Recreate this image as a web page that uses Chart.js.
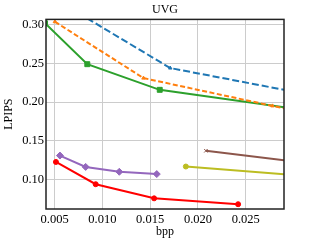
<!DOCTYPE html>
<html>
<head>
<meta charset="utf-8">
<script src="https://cdn.jsdelivr.net/npm/chart.js@4.4.1/dist/chart.umd.min.js"></script>
<style>
  html, body { margin: 0; padding: 0; background: #fff; }
  #wrap { width: 309px; height: 247px; }
</style>
</head>
<body>
<div id="wrap"><canvas id="myChart"></canvas></div>
<script>
// values (points past the right edge get clipped)
var blueX = [0.0075, 0.0171, 0.032];
var blueY = [0.315, 0.244, 0.2087];
var orangeX = [0.00503, 0.0143, 0.0278, 0.032];
var orangeY = [0.304, 0.231, 0.195, 0.184];
var greenX = [0.0040, 0.00842, 0.0160, 0.032];
var greenY = [0.302, 0.249, 0.2158, 0.188];
var purpleX = [0.00556, 0.00825, 0.01177, 0.01569];
var purpleY = [0.1307, 0.116, 0.1097, 0.1067];
var redX = [0.00514, 0.0093, 0.01541, 0.0242];
var redY = [0.1224, 0.0936, 0.0753, 0.0677];
var brownX = [0.02083, 0.032];
var brownY = [0.1369, 0.1201];
var oliveX = [0.01873, 0.032];
var oliveY = [0.1165, 0.1035];

var xTicks = [0.005, 0.010, 0.015, 0.020, 0.025];
var yTicks = [0.10, 0.15, 0.20, 0.25, 0.30];

function pts(xs, ys) {
    return xs.map((x, i) => ({x: x, y: ys[i]}));
}

function series(xs, ys, color, style, radius, dash) {
    return {
        data: pts(xs, ys),
        borderColor: color,
        backgroundColor: color,
        borderWidth: 2,
        borderDash: dash || [],
        pointStyle: style,
        pointRadius: radius,
        pointBorderWidth: 1,
        tension: 0,
        clip: 0
    };
}

// box round the plot area
var frame = {
    id: 'frame',
    afterDatasetsDraw(chart) {
        var a = chart.chartArea, c = chart.ctx;
        c.save();
        c.strokeStyle = '#222';
        c.lineWidth = 1.5;
        c.strokeRect(a.left, a.top, a.right - a.left, a.bottom - a.top);
        c.restore();
    }
};

var serif = 'Liberation Serif';
var ctx = document.getElementById('myChart').getContext('2d');

new Chart(ctx, {
    type: 'line',
    data: {
        datasets: [
            series(blueX, blueY, '#1f77b4', 'triangle', 2, [7, 3]),
            series(orangeX, orangeY, '#ff7f0e', 'triangle', 2, [5, 2.5]),
            series(greenX, greenY, '#2ca02c', 'rect', 3.5),
            series(purpleX, purpleY, '#9467bd', 'rectRot', 3.5),
            series(redX, redY, '#ff0000', 'circle', 2.5),
            series(brownX, brownY, '#8c564b', 'crossRot', 2.5),
            series(oliveX, oliveY, '#bcbd22', 'circle', 2.5)
        ]
    },
    options: {
        responsive: true,
        maintainAspectRatio: false,
        animation: false,
        layout: { padding: { left: 0, right: 25, top: 0, bottom: 0 } },
        plugins: {
            legend: { display: false },
            tooltip: { enabled: false },
            title: {
                display: true,
                fullSize: false,
                text: 'UVG',
                color: '#000',
                font: { family: serif, size: 12, weight: 'normal' },
                padding: { top: 3, bottom: 2 }
            }
        },
        scales: {
            x: {
                type: 'linear',
                min: 0.0041,
                max: 0.029,
                afterBuildTicks: s => { s.ticks = xTicks.map(v => ({value: v})); },
                afterFit: s => { s.height = 38; },
                grid: { color: '#cccccc', lineWidth: 1, drawTicks: false },
                border: { display: false },
                ticks: {
                    color: '#000',
                    padding: 3,
                    maxRotation: 0,
                    font: { family: serif, size: 12.5 },
                    callback: v => v.toFixed(3)
                },
                title: {
                    display: true,
                    text: 'bpp',
                    color: '#000',
                    font: { family: serif, size: 12 },
                    padding: { top: 0, bottom: 8 }
                }
            },
            y: {
                type: 'linear',
                min: 0.0615,
                max: 0.307,
                afterBuildTicks: s => { s.ticks = yTicks.map(v => ({value: v})); },
                afterFit: s => { s.width = 46; },
                grid: { color: '#cccccc', lineWidth: 1, drawTicks: false },
                border: { display: false },
                ticks: {
                    color: '#000',
                    padding: 2,
                    font: { family: serif, size: 12.5 },
                    callback: v => v.toFixed(2)
                },
                title: {
                    display: true,
                    text: 'LPIPS',
                    color: '#000',
                    font: { family: serif, size: 12 },
                    padding: { top: 2, bottom: 0 }
                }
            }
        }
    },
    plugins: [frame]
});
</script>
</body>
</html>
